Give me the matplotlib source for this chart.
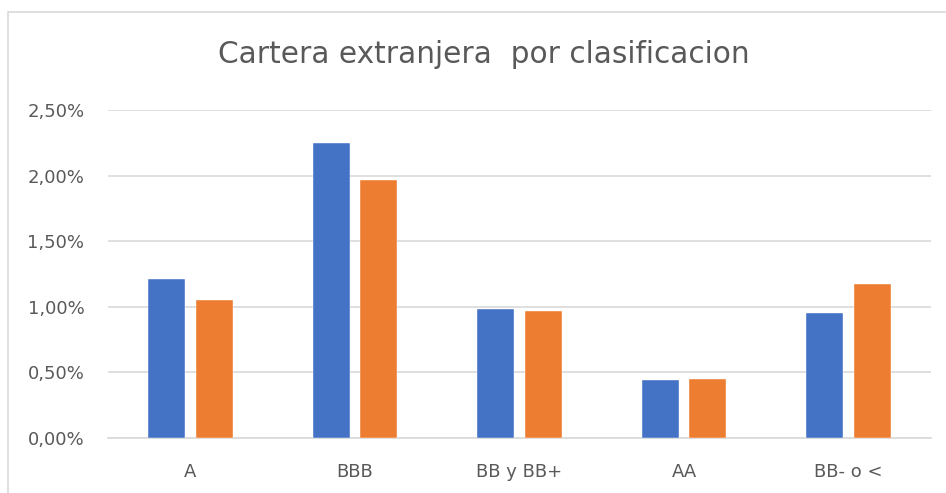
import matplotlib
matplotlib.use("Agg")
import matplotlib.pyplot as plt
import numpy as np
from matplotlib.patches import Rectangle
from matplotlib.ticker import FuncFormatter

categories = ["A", "BBB", "BB y BB+", "AA", "BB- o <"]
serie_1 = [0.0121, 0.0225, 0.0098, 0.0044, 0.0095]
serie_2 = [0.0105, 0.0197, 0.0097, 0.0045, 0.0117]
yticks = [0.0, 0.005, 0.010, 0.015, 0.020, 0.025]

plt.rcParams['font.family'] = ['DejaVu Sans']

W, H = 946, 493
fig = plt.figure(figsize=(W/100, H/100), dpi=100)
fig.patch.set_facecolor("white")

# chart border
fig.add_artist(Rectangle((8/W, -0.05), 1.0, 1 - 12/H + 0.05, transform=fig.transFigure,
                         fill=False, edgecolor="#d9d9d9", linewidth=1.2))

ax = fig.add_axes([108/W, 1 - 438/H, 823/W, 328/H])
x = np.arange(len(categories))
bw = 0.225
off = 0.145
ax.bar(x - off, serie_1, width=bw, color="#4472C4", edgecolor="white", linewidth=0.3, zorder=3)
ax.bar(x + off, serie_2, width=bw, color="#ED7D31", edgecolor="white", linewidth=0.3, zorder=3)

ax.set_xlim(-0.5, len(categories) - 0.5)
ax.set_ylim(0, 0.025)
ax.set_yticks(yticks)
ax.yaxis.set_major_formatter(FuncFormatter(lambda v, p: f"{v*100:.2f}%".replace(".", ",")))
ax.set_xticks(x)
ax.set_xticklabels(categories)
ax.grid(axis="y", color="#d9d9d9", linewidth=1.2, zorder=0)
for s in ["top", "right", "left"]:
    ax.spines[s].set_visible(False)
ax.spines["bottom"].set_color("#d9d9d9")
ax.spines["bottom"].set_linewidth(1.2)
ax.tick_params(axis="both", length=0, colors="#595959", labelsize=13)
ax.tick_params(axis="y", pad=17)
ax.tick_params(axis="x", pad=18)

fig.text(484/W, 1 - 63/H, "Cartera extranjera  por clasificacion", ha="center", va="baseline",
         fontsize=21.3, color="#595959")

fig.savefig("out.png", dpi=100)
